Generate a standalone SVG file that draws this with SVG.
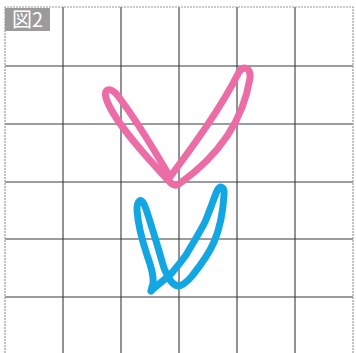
<svg xmlns="http://www.w3.org/2000/svg" width="356" height="353" viewBox="0 0 356 353">
<style>
.grid{stroke:#3a3a3a;stroke-width:1.1;fill:none}
.edge{stroke:#9a9a9a;stroke-width:1.2;stroke-dasharray:2 1;fill:none}
.stroke{fill:none;stroke-width:7;stroke-linecap:round;stroke-linejoin:round}
.pink{stroke:#ec6ca6}
.blue{stroke:#12a7e3}
.lbl{font-family:"Noto Sans CJK JP","Noto Sans",sans-serif;font-size:20px;fill:#ffffff}
</style>
<rect width="356" height="353" fill="#ffffff"/>
<g id="grid">
<path class="grid" d="M63,7V353 M121,7V353 M179,7V353 M237,7V353 M295,7V353 M5,66H353 M5,124H353 M5,182H353 M5,239H353 M5,297H353"/>
<path class="edge" d="M5,353V7H353V353"/>
</g>
<g id="label">
<rect x="5" y="8" width="45" height="23" fill="#9b9b9b"/>
<text class="lbl" x="12" y="27">図2</text>
</g>
<g id="pink-stroke">
<path class="stroke pink" d="M170,177 C160,160 140,125 118,96 C111,87 103,88 106,98 C112,118 140,150 168,180 C172,185 176,186 179,184 C210,162 242,128 250,78 C251,68 244,65 239,72 C220,110 190,150 170,177 Z"/>
</g>
<g id="blue-stroke">
<path class="stroke blue" d="M151,291 C156,286 163,281 170,275 C176,268 181,262 186,255 C193,243 200,232 205,222 C210,210 214,198 217,191 C220,185 225,186 224,195 C223,212 220,228 214,242 C208,256 200,266 192,276 C186,283 182,286 178,286 C172,285 168,278 164,268 C160,255 156,240 152,228 C149,218 146,208 144,204 C141,198 137,200 137,210 C138,225 142,240 147,255 C151,266 154,276 153,283 C152,287 151,290 151,291"/>
</g>
</svg>
